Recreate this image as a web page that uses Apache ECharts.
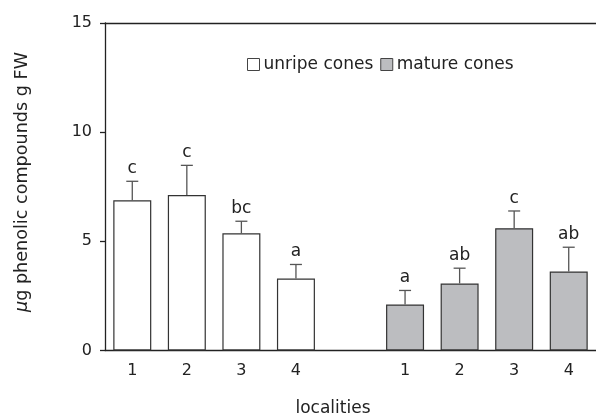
<!DOCTYPE html>
<html>
<head>
<meta charset="utf-8">
<script src="https://cdn.jsdelivr.net/npm/echarts@6/dist/echarts.min.js"></script>
<style>html,body{margin:0;padding:0;background:#fff}#c{width:596px;height:417px}</style>
</head>
<body>
<div id="c"></div>
<script>
// Data
var categories = ['1', '2', '3', '4', '', '1', '2', '3', '4'];
var unripeMeans = [6.88, 7.12, 5.37, 3.30];
var unripeErrTop = [7.75, 8.48, 5.92, 3.94];
var unripeLetters = ['c', 'c', 'bc', 'a'];
var matureMeans = [2.11, 3.07, 5.60, 3.62];
var matureErrTop = [2.75, 3.77, 6.39, 4.73];
var matureLetters = ['a', 'ab', 'c', 'ab'];
var yTicks = [0, 5, 10, 15];

var FONT = '"DejaVu Sans", Verdana, sans-serif';
var chart = echarts.init(document.getElementById('c'));

var unripeData = [], matureData = [], errData = [];
for (var i = 0; i < categories.length; i++) { unripeData.push('-'); matureData.push('-'); }
unripeMeans.forEach(function (v, i) {
  unripeData[i] = v;
  errData.push([i, v, unripeErrTop[i], unripeLetters[i]]);
});
matureMeans.forEach(function (v, i) {
  matureData[i + 5] = v;
  errData.push([i + 5, v, matureErrTop[i], matureLetters[i]]);
});

chart.setOption({
  animation: false,
  textStyle: { fontFamily: FONT },
  grid: { left: 105, top: 23, width: 499.5, height: 327.5, containLabel: false },
  legend: {
    left: 242, top: 51,
    itemWidth: 12, itemHeight: 12, itemGap: 7,
    textStyle: { fontFamily: FONT, fontSize: 17, color: '#222', padding: [0, 0, 0, -1] },
    data: [
      { name: 'unripe cones', icon: 'rect', itemStyle: { color: '#fff', borderColor: '#444', borderWidth: 1 } },
      { name: 'mature cones', icon: 'rect', itemStyle: { color: '#bcbdc0', borderColor: '#444', borderWidth: 1 } }
    ]
  },
  xAxis: [{
    type: 'category', data: categories, position: 'bottom',
    axisLine: { lineStyle: { color: '#222', width: 1.3 } },
    axisTick: { show: false },
    axisLabel: { color: '#222', fontSize: 16, margin: 12, fontFamily: FONT }
  }, {
    type: 'category', data: categories, position: 'top',
    axisLine: { show: true, onZero: false, lineStyle: { color: '#222', width: 1.3 } },
    axisTick: { show: false }, axisLabel: { show: false }
  }],
  yAxis: {
    type: 'value', min: 0, max: 15, interval: 5,
    axisLine: { show: true, lineStyle: { color: '#222', width: 1.3 } },
    axisTick: { show: true, length: 5, lineStyle: { color: '#222', width: 1.3 } },
    splitLine: { show: false },
    axisLabel: { color: '#222', fontSize: 16, margin: 13, fontFamily: FONT,
      formatter: function (v) { return yTicks.indexOf(v) >= 0 ? String(v) : ''; } }
  },
  graphic: [
    {
      type: 'text', x: 22, y: 182, rotation: Math.PI / 2,
      style: {
        text: '{i|\u03bc}g phenolic compounds g FW',
        font: '17.6px ' + FONT, fill: '#222', align: 'center', verticalAlign: 'middle',
        rich: { i: { fontStyle: 'italic', fontSize: 17.6, fontFamily: FONT, fill: '#222' } }
      }
    },
    {
      type: 'text', x: 333, y: 409,
      style: { text: 'localities', font: '17px ' + FONT, fill: '#222', align: 'center', verticalAlign: 'middle' }
    }
  ],
  series: [
    {
      name: 'unripe cones', type: 'bar', data: unripeData, barWidth: 38, barGap: '-100%',
      itemStyle: { color: '#fff', borderColor: '#333', borderWidth: 1.2 }
    },
    {
      name: 'mature cones', type: 'bar', data: matureData, barWidth: 38, barGap: '-100%',
      itemStyle: { color: '#bcbdc0', borderColor: '#333', borderWidth: 1.2 }
    },
    {
      type: 'custom', data: errData, z: 5,
      renderItem: function (params, api) {
        var x = api.value(0);
        var p0 = api.coord([x, api.value(1)]);
        var p1 = api.coord([x, api.value(2)]);
        var letter = errData[params.dataIndex][3];
        var cap = 6;
        return {
          type: 'group',
          children: [
            { type: 'line', shape: { x1: p0[0], y1: p0[1], x2: p1[0], y2: p1[1] }, style: { stroke: '#555', lineWidth: 1.3 } },
            { type: 'line', shape: { x1: p1[0] - cap, y1: p1[1], x2: p1[0] + cap, y2: p1[1] }, style: { stroke: '#555', lineWidth: 1.3 } },
            { type: 'text', x: p1[0], y: p1[1] - 4, style: { text: letter, font: '17px ' + FONT, fill: '#222', align: 'center', verticalAlign: 'bottom' } }
          ]
        };
      }
    }
  ]
});
</script>
</body>
</html>
